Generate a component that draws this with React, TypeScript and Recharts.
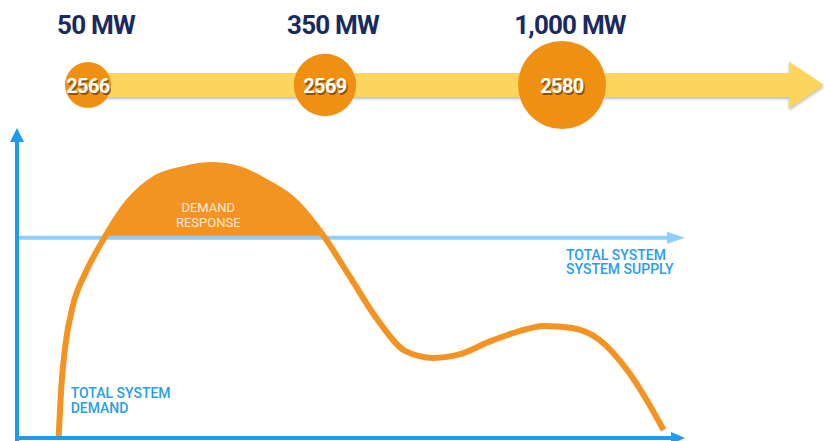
import {
  ComposedChart,
  ScatterChart,
  Scatter,
  Line,
  Area,
  XAxis,
  YAxis,
  ZAxis,
  ReferenceLine,
  LabelList,
} from 'recharts';

// Rollout milestones (Thai calendar years) and capacity
const MILESTONE_YEARS = ['2566', '2569', '2580'];
const MILESTONE_MW = [50, 350, 1000];

// Daily demand profile, hour of day vs. relative load
const HOURS = [1.5, 1.6, 1.75, 2, 2.5, 3, 4, 5, 6, 7, 8, 9, 10, 11, 12, 13, 14, 15, 16, 17, 18, 19, 20, 21, 22, 23, 23.3];
const DEMAND = [0, 17, 30.5, 42.5, 54.2, 62.7, 76.6, 84.4, 87.3, 88.6, 87.3, 83, 77, 66.2, 52.3, 38.3, 28.2, 26, 27.3, 31.2, 34.4, 36.4, 35.7, 31.8, 21.9, 7.5, 2.6];
const SUPPLY = 65;

const W = 824;
const FONT = 'Roboto, "Noto Sans", sans-serif';
const NAVY = '#1B2A5E';
const ORANGE = '#F39322';
const BUBBLE = '#EF9012';
const YELLOW = '#FDD45C';
const AXIS_BLUE = '#1E9BEA';
const SUPPLY_BLUE = '#8DCFFA';
const TEXT_BLUE = '#2A9DE8';

const timeline = MILESTONE_YEARS.map((year, i) => ({ year, mw: MILESTONE_MW[i] }));
const profile = HOURS.map((hour, i) => ({ hour, demand: DEMAND[i] }));
const peakIndex = DEMAND.indexOf(Math.max(...DEMAND));

const CHART2_H = 321;
const M2 = { top: 10, right: 141, bottom: 3, left: 17 };
const PLOT2_H = CHART2_H - M2.top - M2.bottom;
const Y_MAX = 100;
const supplyY = M2.top + PLOT2_H * (1 - SUPPLY / Y_MAX);

// thick yellow timeline arrow behind the bubbles
function TimelineArrow(p: any) {
  const y = p.y1;
  const start = p.x1 + 72;
  const tip = p.x2;
  const neck = tip - 35;
  const half = 12;
  const head = 23.5;
  const pts = [
    [start, y - half],
    [neck, y - half],
    [neck, y - head],
    [tip, y],
    [neck, y + head],
    [neck, y + half],
    [start, y + half],
  ]
    .map((q) => q.join(','))
    .join(' ');
  return (
    <polygon
      points={pts}
      fill={YELLOW}
      style={{ filter: 'drop-shadow(0px 2px 1.5px rgba(60,60,60,0.35))' }}
    />
  );
}

// straight line with a triangular head, pointing up (vertical) or right (horizontal)
function arrowShape(color: string, width: number, len: number, half: number) {
  return (p: any) => {
    const { x1, y1, x2, y2 } = p;
    if (Math.abs(x1 - x2) < 0.5) {
      const top = Math.min(y1, y2) - 2;
      const bottom = Math.max(y1, y2) + 3;
      return (
        <g>
          <line x1={x1} y1={bottom} x2={x1} y2={top + len - 1} stroke={color} strokeWidth={width} />
          <polygon points={`${x1 - half},${top + len} ${x1},${top} ${x1 + half},${top + len}`} fill={color} />
        </g>
      );
    }
    const left = Math.min(x1, x2) - 2;
    const right = Math.max(x1, x2) + 2;
    return (
      <g>
        <line x1={left} y1={y1} x2={right - len + 1} y2={y1} stroke={color} strokeWidth={width} />
        <polygon points={`${right - len},${y1 - half} ${right},${y1} ${right - len},${y1 + half}`} fill={color} />
      </g>
    );
  };
}

function box(props: any) {
  const vb = props.viewBox ?? props;
  return { cx: vb.x + vb.width / 2, cy: vb.y + vb.height / 2 };
}

function YearLabel(props: any) {
  const { cx, cy } = box(props);
  const common = {
    textAnchor: 'middle' as const,
    dominantBaseline: 'central' as const,
    fontFamily: FONT,
    fontWeight: 700,
    fontSize: 20,
    letterSpacing: -0.6,
  };
  return (
    <g>
      <text x={cx + 1.2} y={cy + 2.5} fill="#6B3F0A" fillOpacity={0.75} {...common}>
        {props.value}
      </text>
      <text x={cx} y={cy + 1} fill="#fff" {...common}>
        {props.value}
      </text>
    </g>
  );
}

function MwLabel(props: any) {
  const { cx } = box(props);
  return (
    <text
      x={cx + 8}
      y={34}
      textAnchor="middle"
      fontFamily={FONT}
      fontWeight={700}
      fontSize={26}
      letterSpacing={-0.8}
      fill={NAVY}
    >
      {`${Number(props.value).toLocaleString('en-US')} MW`}
    </text>
  );
}

// two-line caption, one <text> per line
function Caption({ x, y, lines, gap, ...rest }: any) {
  return (
    <g>
      {lines.map((s: string, i: number) => (
        <text key={s} x={x} y={y + i * gap} fontFamily={FONT} {...rest}>
          {s}
        </text>
      ))}
    </g>
  );
}

function DemandTag(props: any) {
  if (props.index !== 0) return null;
  return (
    <Caption
      x={props.x + 12}
      y={props.y - 40}
      gap={14.5}
      lines={['TOTAL SYSTEM', 'DEMAND']}
      fontWeight={500}
      fontSize={14}
      fill={TEXT_BLUE}
    />
  );
}

function ResponseTag(props: any) {
  if (props.index !== peakIndex) return null;
  return (
    <Caption
      x={props.x - 3}
      y={props.y + 47}
      gap={15}
      lines={['DEMAND', 'RESPONSE']}
      textAnchor="middle"
      fontSize={13}
      fill="#FFEBD3"
    />
  );
}

function SupplyTag(props: any) {
  const vb = props.viewBox;
  return (
    <Caption
      x={vb.x + vb.width - 117}
      y={vb.y + 22}
      gap={14.5}
      lines={['TOTAL SYSTEM', 'SYSTEM SUPPLY']}
      fontWeight={500}
      fontSize={14}
      fill={TEXT_BLUE}
    />
  );
}

export default function App() {
  return (
    <div style={{ position: 'absolute', left: 0, top: 0, width: W, height: 441, background: '#fff', overflow: 'hidden' }}>
      <div style={{ position: 'absolute', left: 0, top: 0 }}>
        <ScatterChart width={W} height={140} margin={{ top: 40, right: 0, bottom: 10, left: 0 }} data={timeline}>
          <XAxis dataKey="year" type="category" scale="point" padding={{ left: 88, right: 262 }} hide />
          <YAxis dataKey={() => 0} type="number" domain={[-1, 1]} hide />
          <ZAxis dataKey="mw" type="number" domain={[50, 1000]} range={[1662, 6082]} />
          <ReferenceLine y={0} shape={TimelineArrow} />
          <Scatter data={timeline} fill={BUBBLE} isAnimationActive={false}>
            <LabelList dataKey="year" content={YearLabel} />
            <LabelList dataKey="mw" content={MwLabel} />
          </Scatter>
        </ScatterChart>
      </div>
      <div style={{ position: 'absolute', left: 0, top: 120 }}>
        <ComposedChart width={W} height={CHART2_H} margin={M2} data={profile}>
          <defs>
            <clipPath id="above-supply">
              <rect x={0} y={0} width={W} height={supplyY} />
            </clipPath>
          </defs>
          <XAxis dataKey="hour" type="number" domain={[0, 24]} hide />
          <YAxis type="number" domain={[0, Y_MAX]} hide />
          <Area
            dataKey="demand"
            type="monotone"
            baseValue={SUPPLY}
            fill={ORANGE}
            fillOpacity={1}
            stroke="none"
            clipPath="url(#above-supply)"
            isAnimationActive={false}
          >
            <LabelList dataKey="demand" content={ResponseTag} />
          </Area>
          <ReferenceLine
            y={SUPPLY}
            shape={arrowShape(SUPPLY_BLUE, 4, 18, 6)}
            label={<SupplyTag />}
          />
          <Line
            dataKey="demand"
            type="monotone"
            stroke={ORANGE}
            strokeWidth={6}
            dot={false}
            isAnimationActive={false}
          >
            <LabelList dataKey="demand" content={DemandTag} />
          </Line>
          <ReferenceLine x={0} shape={arrowShape(AXIS_BLUE, 4, 14, 7)} />
          <ReferenceLine y={0} shape={arrowShape(AXIS_BLUE, 4, 14, 6)} />
        </ComposedChart>
      </div>
    </div>
  );
}
